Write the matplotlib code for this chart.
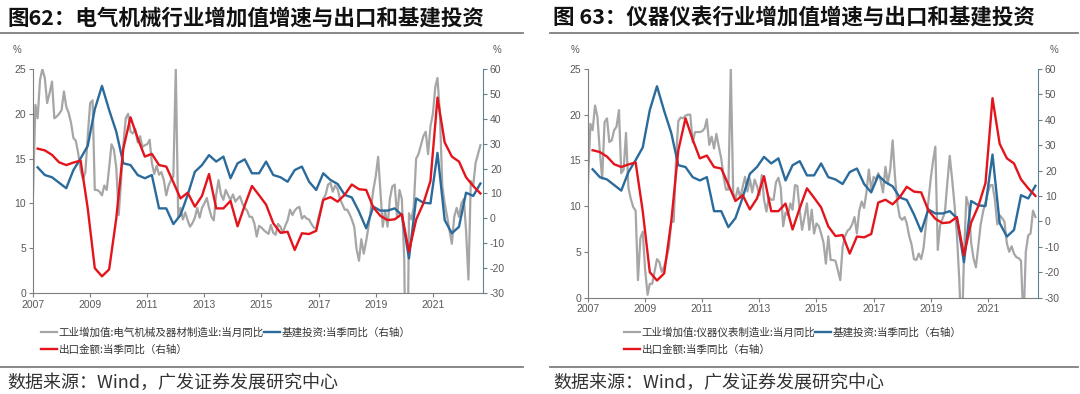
import numpy as np
import pandas as pd
import matplotlib
matplotlib.use('Agg')
import matplotlib.pyplot as plt
from matplotlib.lines import Line2D

CJK = ['Noto Sans CJK SC', 'DejaVu Sans']
plt.rcParams['font.family'] = CJK
plt.rcParams['axes.unicode_minus'] = False

# monthly industrial value added yoy (%), 2007-01 .. 2022-09
elec_va = [
    11, 21, 19.5, 23.8, 25, 24, 21.2, 22.3, 23.6, 19.5, 19.7, 20,          # 2007
    20.4, 22.5, 20.8, 20.1, 19, 17.3, 17, 15.6, 13.7, 12.7, 13.5, 17.5,    # 2008
    21.2, 21.5, 11.5, 11.5, 11.3, 10.9, 12, 11.5, 14, 16.6, 16, 14,        # 2009
    8.7, 12.6, 16.5, 19.5, 20, 18, 17.8, 18.3, 16.8, 17.5, 16.3, 16.5,     # 2010
    16.6, 17.1, 14.5, 13.3, 14.2, 13.2, 13.5, 12.6, 10.9, 12, 12.6, 13,    # 2011
    25, 8.5, 9.5, 8.2, 9, 8.1, 7.4, 7.8, 8.4, 9.5, 8.4, 9.5,               # 2012
    10, 10.6, 9.5, 8.5, 8.1, 11, 12.6, 11, 10.4, 11.5, 10.9, 10.4,         # 2013
    11, 10.2, 10.5, 10.8, 10, 9.5, 9.2, 8.5, 8.5, 7.8, 6.3, 7.5,           # 2014
    7.3, 7, 6.8, 6.6, 7.6, 6.7, 6.5, 7.7, 7.4, 6.7, 7.5, 8.1,              # 2015
    9.3, 8.7, 9.2, 9.5, 9.6, 8.3, 8.6, 8.3, 8.2, 7.7, 7.3, 7.2,            # 2016
    8.5, 9.5, 10.5, 11, 12.1, 12.3, 11.3, 12, 11.6, 10.5, 9.9, 9.3,        # 2017
    9.3, 8.8, 8.2, 7.4, 4.9, 3.6, 6, 4.4, 5.8, 7.4, 9.5, 11.5,             # 2018
    13, 15.2, 11.5, 7.4, 9.2, 7.4, 10.5, 11.9, 12.1, 8.5, 11.5, 10.5,      # 2019
    3.7, -20, 8.9, 8.2, 9.6, 15, 15.5, 16.5, 17.5, 18, 15.5, 18.6,         # 2020
    20, 23, 24, 20, 12, 10, 8.6, 7, 5.5, 8.5, 9.5, 8.5,                    # 2021
    10, 10.5, 7, 1.5, 12.5, 12, 14.5, 15.5, 16.5,                          # 2022
]
instr_va = [
    12.5, 19, 18.3, 21, 19.8, 16, 13, 19.2, 19.6, 17, 17.2, 18.3,          # 2007
    18.7, 20.5, 13.6, 14, 18, 12, 10.8, 9.9, 9.5, 1.9, 6.5, 7.2,           # 2008
    3, 0.3, 1.5, 1.5, 2.8, 4.2, 3.9, 2.8, 3.4, 4.3, 5.5, 8.3,              # 2009
    8.3, 15.4, 19.3, 19.7, 19.6, 19.9, 20, 20, 17, 18.1, 18.1, 18.1,       # 2010
    18.2, 18.5, 19.5, 16.7, 17.6, 16.3, 17.9, 16.5, 15.2, 13.2, 11.8, 11.8,  # 2011
    25, 11.4, 10.8, 12, 10.9, 12.1, 13.2, 11.6, 13, 11.5, 12.9, 12.2,      # 2012
    11.2, 13.4, 10.7, 9.4, 11, 10.7, 10.7, 12.6, 13.1, 12, 7.8, 9.3,       # 2013
    9, 10.3, 9.6, 12.3, 12.2, 9.5, 7.4, 8.8, 10.3, 7.4, 9.6, 7,            # 2014
    8.1, 7.8, 7, 6, 3.7, 6.7, 4.1, 4.1, 4, 3, 1.9, 5.5,                    # 2015
    6.7, 7.3, 7.5, 8, 8.8, 7, 9.5, 10.5, 9.8, 11.5, 14, 11.8,              # 2016
    13.2, 12.9, 13.6, 12.8, 11.5, 14.3, 12.5, 14, 17.2, 13.2, 10.3, 8.8,   # 2017
    8.5, 8.8, 8.1, 6.7, 5.8, 4.2, 4.1, 4.8, 4.2, 5.4, 8, 10.5,             # 2018
    13, 15, 16.5, 5.2, 7.9, 8.6, 9.3, 12.5, 15.5, 13, 10.2, 7,             # 2019
    2, -5, 4.5, 11, 10, 6, 4.3, 3.3, 5.7, 8, 9.4, 10.4,                    # 2020
    11.5, 12.3, 12.3, 10.7, 8, 9, 8.7, 8.3, 5.9, 5, 5.6, 4.8,              # 2021
    4.4, 4.3, 4, -3, 5, 6.8, 7, 9.5, 8.8,                                  # 2022
]

# quarterly yoy (%), 2007Q1 .. 2022Q3, right axis
infra_yoy = [
    20.5, 17.4, 16.5, 14.3, 12.1, 19.4, 24.1, 29.1, 43.8, 53.2, 43.5, 34.8,
    22.1, 21.4, 17.4, 16.1, 17.4, 4, 4, -2.3, 1.3, 9.4, 18.7, 21.4,
    25.4, 22.8, 24.8, 16.1, 22.1, 23.7, 18.1, 18.1, 22.8, 17.4, 16.5, 14.7,
    19.4, 20.8, 14.7, 11.4, 18.1, 15.4, 13.8, 9.4, 8.4, 2.7, -4, 4.7,
    3.1, 3.1, 4, 1.3, -16.1, 8, 6.3, 6, 26.3, -0.7, -6, -3.4,
    10.3, 9, 14,
]
export_yoy = [
    28, 27.3, 25.5, 22.5, 21.4, 22.4, 23.2, 4, -20, -23.3, -20.5, 0,
    28, 40.6, 32.2, 24.8, 25.9, 21.4, 20.8, 14.5, 8, 10.3, 4.7, 9,
    17.8, 4, 4, 7, -3.2, 5.2, 13, 9.3, 5.5, -2, -5.8, -5.4,
    -12.7, -6, -6.3, -5, 7.4, 8.5, 6.7, 9.5, 13.6, 11.7, 11.4, 4.4,
    1, -0.7, -0.4, 1.7, -13.4, -0.5, 6, 15, 48.5, 30.5, 24.8, 22.8,
    16.5, 13, 10,
]

tick_years = list(range(2007, 2023, 2))

titles = ['图62：电气机械行业增加值增速与出口和基建投资',
          '图 63：仪器仪表行业增加值增速与出口和基建投资']
gray_labels = ['工业增加值:电气机械及器材制造业:当月同比',
               '工业增加值:仪器仪表制造业:当月同比']
infra_label = '基建投资:当季同比（右轴）'
export_label = '出口金额:当季同比（右轴）'
source = '数据来源：Wind，广发证券发展研究中心'

GRAY = '#a6a6a6'
BLUE = '#2b6b9b'
RED = '#e3141c'
TXT = '#595959'
SPINE = '#7f7f7f'

months = pd.date_range('2007-01-01', periods=len(elec_va), freq='MS')
quarters = pd.date_range('2007-03-01', periods=len(infra_yoy), freq='3MS')
xlo, xhi = pd.Timestamp('2007-01-01'), pd.Timestamp('2022-10-04')

fig = plt.figure(figsize=(10.8, 3.94), dpi=100)


def panel(rect, gray, title, gray_label, x_title, line_x, pct_x, leg_x):
    ax = fig.add_axes(rect)
    ax2 = ax.twinx()
    ax.plot(months, gray, color=GRAY, lw=1.6)
    ax2.plot(quarters, infra_yoy, color=BLUE, lw=1.7)
    ax2.plot(quarters, export_yoy, color=RED, lw=1.7)

    ax.set_xlim(xlo, xhi)
    ax.set_ylim(0, 25)
    ax2.set_ylim(-30, 60)
    ax.set_yticks(range(0, 26, 5))
    ax2.set_yticks(range(-30, 61, 10))
    ax.set_xticks([pd.Timestamp(f'{y}-01-01') for y in tick_years])
    ax.set_xticklabels([str(y) for y in tick_years])

    for a in (ax, ax2):
        a.spines['top'].set_visible(False)
        a.tick_params(labelsize=7.5, colors=TXT, length=3, width=0.8, pad=2)
        for lab in a.get_xticklabels() + a.get_yticklabels():
            lab.set_fontfamily('Liberation Sans')
    ax.spines['left'].set_color(SPINE)
    ax.spines['bottom'].set_color(SPINE)
    ax.spines['right'].set_visible(False)
    ax2.spines['left'].set_visible(False)
    ax2.spines['bottom'].set_visible(False)
    ax2.spines['right'].set_color('#5e8193')
    ax.tick_params(axis='both', color=SPINE)
    ax2.tick_params(axis='y', color='#5e8193')

    # units
    for px in pct_x:
        fig.text(px, 0.873, '%', fontsize=7, color=TXT, ha='center', va='center',
                 family='Liberation Sans')

    # title, rules and source
    fig.text(x_title, 0.953, title, fontsize=15.5, fontweight='bold', color='#111111',
             ha='left', va='center', family=CJK)
    fig.add_artist(Line2D(line_x, [0.916, 0.916], color=SPINE, lw=1.3))
    fig.add_artist(Line2D(line_x, [0.068, 0.068], color=SPINE, lw=1.3))
    fig.text(x_title, 0.028, source, fontsize=13, color='#333333',
             ha='left', va='center', family=CJK)

    handles = [Line2D([], [], color=GRAY, lw=1.6),
               Line2D([], [], color=RED, lw=1.7),
               Line2D([], [], color=BLUE, lw=1.7)]
    labels = [gray_label, export_label, infra_label]
    fig.legend(handles, labels, loc='upper left', bbox_to_anchor=(leg_x, 0.170),
               ncol=2, frameon=False, handlelength=1.5,
               handletextpad=0.15, columnspacing=0.0, labelspacing=0.65,
               borderpad=0, borderaxespad=0, prop={'family': CJK, 'size': 7.6},
               labelcolor='#333333')


panel([33 / 1080, 1 - 293 / 394, 450 / 1080, 224 / 394], elec_va, titles[0],
      gray_labels[0], 0.007, [0.0, 0.484], (0.016, 0.46), 0.038)
panel([588 / 1080, 1 - 297.5 / 394, 450 / 1080, 228.5 / 394], instr_va, titles[1],
      gray_labels[1], 0.512, [0.509, 0.998], (0.532, 0.976), 0.578)

fig.savefig('out.png', dpi=100)
